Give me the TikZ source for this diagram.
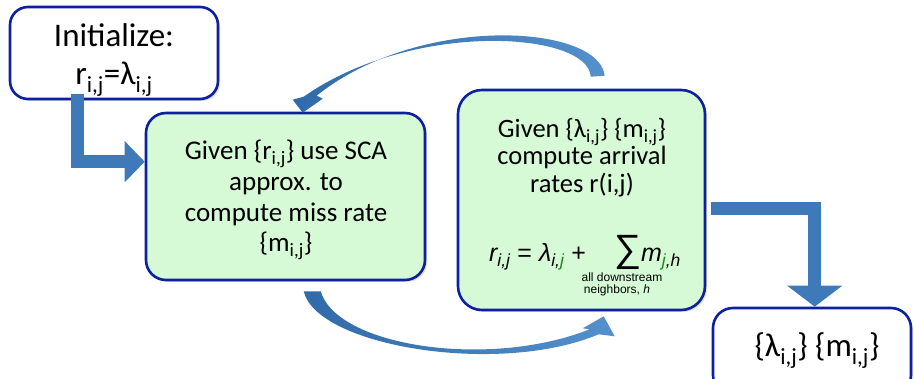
\documentclass[tikz,border=0pt]{standalone}
\usepackage{fontspec}
\setmainfont{Carlito}
\newfontfamily\arialf{Liberation Sans}
\usetikzlibrary{arrows.meta,calc,shadows}
\definecolor{bordblue}{RGB}{12,32,160}
\definecolor{boxgreen}{RGB}{214,250,214}
\definecolor{arrdark}{RGB}{48,106,168}
\definecolor{arrlight}{RGB}{84,144,204}
\definecolor{arrmid}{RGB}{62,122,186}
\definecolor{subgreen}{RGB}{20,140,20}
\begin{document}
\begin{tikzpicture}[x=1pt,y=-1pt,
  box/.style={draw=bordblue, line width=2.6pt, rounded corners=20pt, inner sep=0pt,
    drop shadow={shadow xshift=2pt,shadow yshift=-2pt,opacity=0.25}},
  greenbox/.style={box, fill=boxgreen},
  bigtxt/.style={font=\fontsize{33}{38}\selectfont, inner sep=0pt, anchor=base},
  txt/.style={font=\fontsize{27}{31}\selectfont, inner sep=0pt, anchor=base},
  rtxt/.style={font=\fontsize{26.5}{31}\selectfont, inner sep=0pt, anchor=base},
  smalltxt/.style={font=\arialf\fontsize{12}{13}\selectfont, inner sep=0pt, anchor=base},
  elbow/.style={draw=arrmid, line width=13pt, line join=miter},
  curvefill/.style={left color=arrdark, right color=arrlight}]
\useasboundingbox (0,0) rectangle (914,379);

% boxes
\node[box, fill=white, minimum width=208pt, minimum height=92pt, rounded corners=18pt] (init) at (114,53) {};
\node[greenbox, minimum width=279pt, minimum height=167pt] (miss) at (285.5,196.5) {};
\node[greenbox, minimum width=247pt, minimum height=220pt, rounded corners=24pt] (rates) at (581.5,200) {};
\node[box, fill=white, minimum width=198pt, minimum height=87pt] (output) at (812,351.5) {};

% texts
\node[bigtxt] (i1) at (114,47) {Initialize:};
\node[bigtxt] (i2) at (114,85) {r\textsubscript{i,j}=λ\textsubscript{i,j}};

\node[txt] (m1) at (286,160) {Given \{r\textsubscript{i,j}\} use SCA};
\node[txt] (m2) at (286,191) {approx. to};
\node[txt] (m3) at (286,222) {compute miss rate};
\node[txt] (m4) at (286,252) {\{m\textsubscript{i,j}\}};

\node[rtxt] (r1) at (582,138) {Given \{λ\textsubscript{i,j}\} \{m\textsubscript{i,j}\}};
\node[rtxt] (r2) at (582,165) {compute arrival};
\node[rtxt] (r3) at (582,193) {rates r(i,j)};
\node[inner sep=0pt, anchor=base] (formula) at (585,262)
  {\arialf\fontsize{25}{25}\selectfont\itshape r\textsubscript{i,j} {\upshape =} λ\textsubscript{i,\textcolor{subgreen}{j}} {\upshape +}\hspace{28pt}{\upshape\fontsize{38}{38}\selectfont ∑}m\textsubscript{\textcolor{subgreen}{j},h}};
\node[smalltxt] (s1) at (622,282) {all downstream};
\node[smalltxt] (s2) at (617,294) {neighbors, \textit{h}};

\node[txt, font=\fontsize{33}{36}\selectfont] (o1) at (817,357) {\{λ\textsubscript{i,j}\} \{m\textsubscript{i,j}\}};

% elbow arrows
\draw[elbow, -{Triangle[length=20pt,width=40pt]}]
  ([xshift=68.5pt,yshift=6pt]init.south west) |- ([yshift=-50pt]miss.north west);
\draw[elbow, -{Triangle[length=21pt,width=54pt]}]
  ([xshift=5pt,yshift=-119.5pt]rates.north east) -| ([xshift=103pt]output.north west);

% curved arrows
\shade[curvefill]
  ($(rates.north west)+(148,-13)$) .. controls +(-6,-52) and +(102,-82) ..
  ($(miss.north west)+(172,-16)$) -- ($(miss.north west)+(178,-13)$) --
  ($(miss.north west)+(158,1)$) -- ($(miss.north west)+(148,-12)$) --
  ($(miss.north west)+(159,-15)$) .. controls +(110,-77) and +(-2,-45) ..
  ($(rates.north west)+(134,-12)$) -- cycle;
\shade[curvefill]
  ($(miss.south west)+(159,10)$) .. controls +(13,55) and +(-100,42) ..
  ($(rates.south west)+(142,23)$) -- ($(rates.south west)+(158,25)$) --
  ($(rates.south west)+(147,5)$) -- ($(rates.south west)+(126,17)$) --
  ($(rates.south west)+(133,18)$) .. controls +(-101,40) and +(16,55) ..
  ($(miss.south west)+(176,10)$) -- cycle;
\end{tikzpicture}
\end{document}
